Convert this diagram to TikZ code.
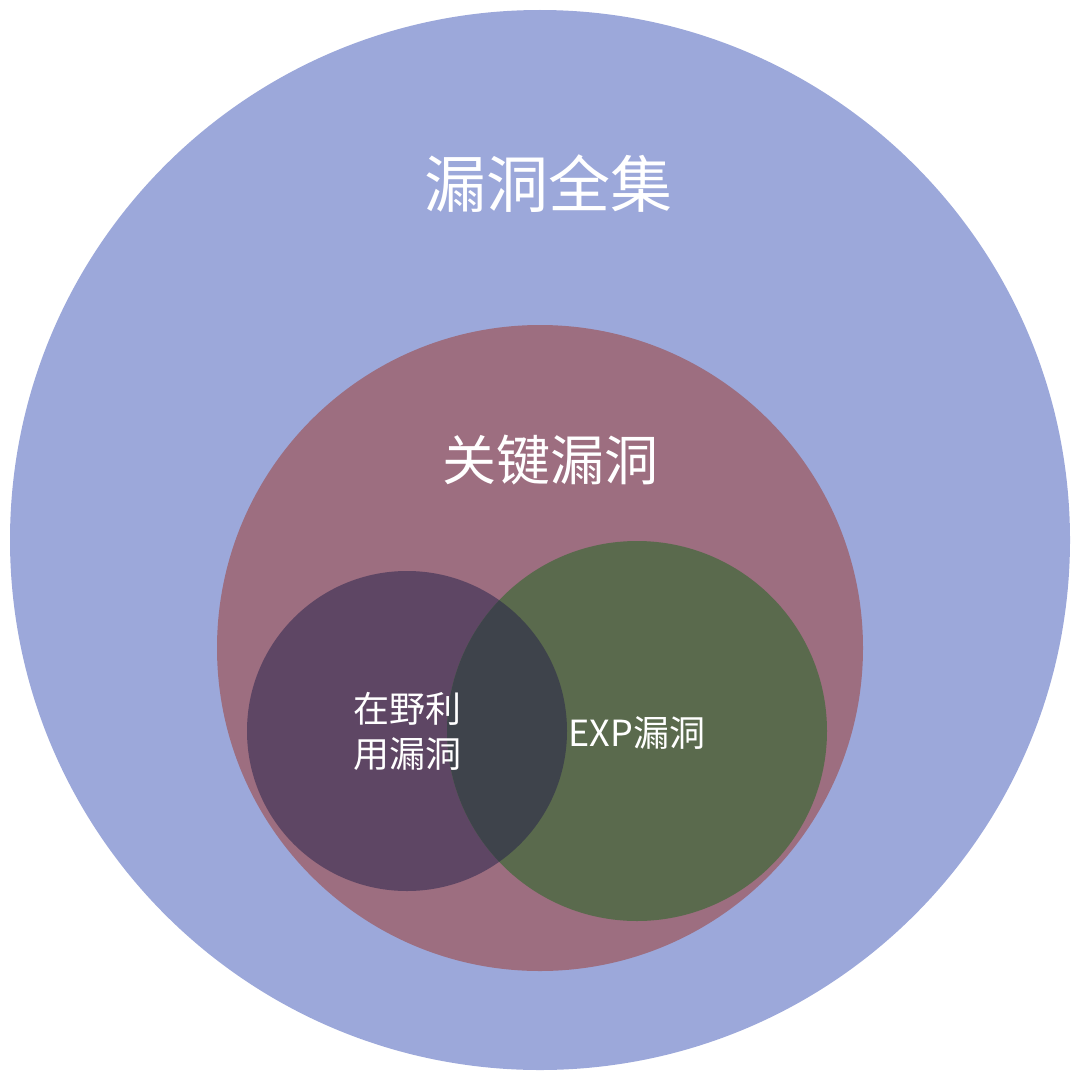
\documentclass[tikz,border=0pt]{standalone}
\usepackage{fontspec}
\setmainfont{Noto Sans CJK SC}
\begin{document}
\begin{tikzpicture}[x=1pt,y=-1pt,
  lbl/.style={text=white,align=center,inner sep=0pt}]
\definecolor{outerc}{HTML}{9CA8DA}
\definecolor{midc}{HTML}{9D6E80}
\definecolor{leftc}{HTML}{5E4664}
\definecolor{rightc}{HTML}{5A6A4D}
\definecolor{overc}{HTML}{3E434B}
\useasboundingbox (0,0) rectangle (1080,1081);
\fill[outerc] (540,540) circle (530);
\fill[midc] (540,648) circle (323);
\fill[leftc] (407,731) circle (160);
\fill[rightc] (637,731) circle (190);
\begin{scope}
\clip (407,731) circle (160);
\fill[overc] (637,731) circle (190);
\end{scope}
\node[lbl,font=\fontsize{62}{68}\selectfont] (all) at (548,184) {漏洞全集};
\node[lbl,font=\fontsize{54}{60}\selectfont] (key) at (550,460) {关键漏洞};
\node[lbl,font=\fontsize{36}{45}\selectfont] (wild) at (407,731) {在野利\\用漏洞};
\node[lbl,font=\fontsize{36}{40}\selectfont] (exp) at (637,733) {EXP漏洞};
\end{tikzpicture}
\end{document}
